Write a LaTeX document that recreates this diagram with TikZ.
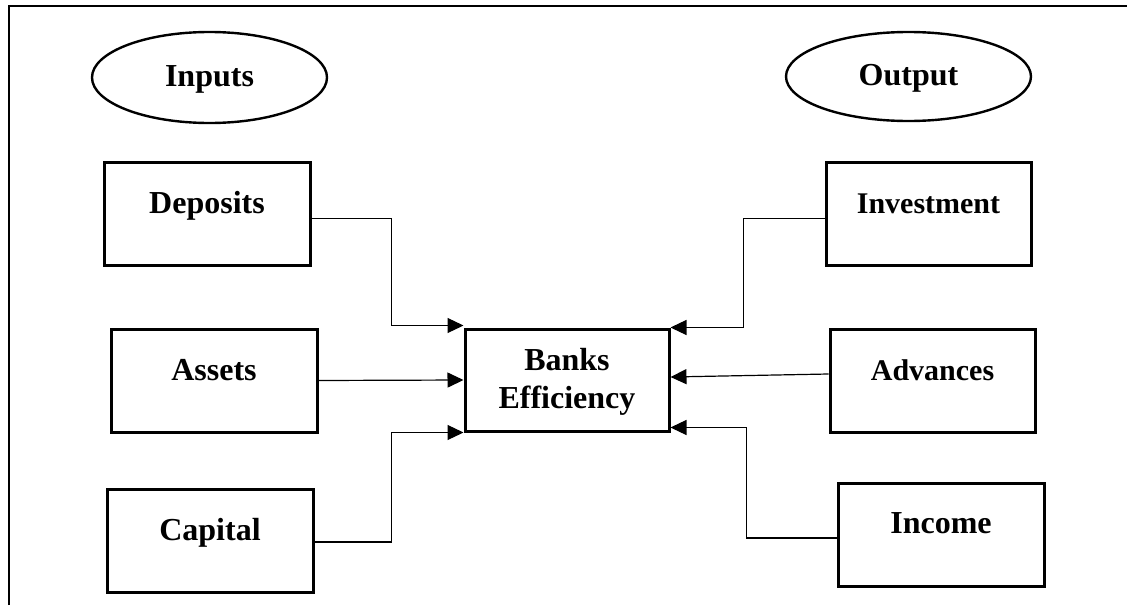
\documentclass[tikz,border=0pt]{standalone}
\usepackage{fontspec}
\setmainfont{Liberation Serif}
\usetikzlibrary{arrows.meta,shapes.geometric}
\tikzset{
  boxnode/.style={draw, line width=3pt, rectangle, inner sep=0pt, align=center,
    text height=51pt, text depth=52pt,
    font=\fontsize{32}{38}\selectfont\bfseries},
  ovalnode/.style={draw, line width=2.4pt, ellipse, inner sep=0pt,
    text height=22pt, text depth=4pt,
    font=\fontsize{32}{38}\selectfont\bfseries},
  conn/.style={line width=1.2pt},
  arr/.style={conn, -{Triangle[length=16pt,width=15pt]}},
  frameline/.style={line width=1.8pt}
}
\begin{document}
\begin{tikzpicture}[x=1pt,y=-1pt]
\useasboundingbox (0,0) rectangle (1127,605);
\coordinate (fbl) at (9,605);
\coordinate (ftl) at (9,6);
\coordinate (ftr) at (1127,6);
\draw[frameline] (fbl) -- (ftl) -- (ftr);

\node[ovalnode, minimum width=235pt, minimum height=91pt] (inputs) at (209.5,77.5) {Inputs};
\node[ovalnode, minimum width=245pt, minimum height=89pt] (output) at (908.5,76.5) {Output};

\node[boxnode, minimum width=206pt] (dep) at (207,213.5) {Deposits};
\node[boxnode, minimum width=206pt] (ast) at (214,380.5) {Assets};
\node[boxnode, minimum width=206pt] (cap) at (210,540.5) {Capital};
\node[boxnode, minimum width=205pt, font=\fontsize{30}{36}\selectfont\bfseries] (inv) at (928.5,213.5) {Investment};
\node[boxnode, minimum width=205pt, font=\fontsize{30}{36}\selectfont\bfseries] (adv) at (932.5,380.5) {Advances};
\node[boxnode, minimum width=206pt, text height=50pt, text depth=53pt] (inc) at (941,534.5) {Income};
\node[boxnode, minimum width=204pt, text height=79pt, text depth=23pt] (bank) at (567,380) {Banks\\Efficiency};

\draw[arr] ([yshift=-5pt]dep.east) -- ++(80,0) |- ([yshift=2pt]bank.north west);
\draw[arr] (ast.east) -- (bank.west);
\draw[arr] ([yshift=-1.5pt]cap.east) -- ++(77,0) |- (bank.south west);
\draw[arr] ([yshift=-5pt]inv.west) -- ++(-81,0) |- (bank.north east);
\draw[arr] ([yshift=6.5pt]adv.west) -- ([yshift=3pt]bank.east);
\draw[arr] ([yshift=-3.5pt]inc.west) -- ++(-90,0) |- ([yshift=5pt]bank.south east);
\end{tikzpicture}
\end{document}
